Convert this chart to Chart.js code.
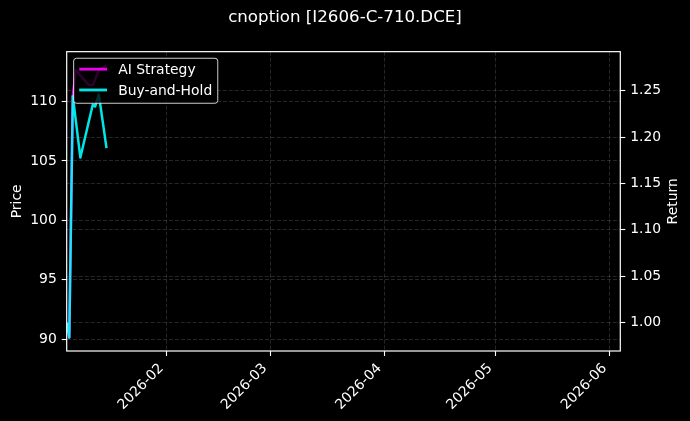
<!DOCTYPE html>
<html>
<head>
<meta charset="utf-8">
<script src="https://cdn.jsdelivr.net/npm/chart.js@4.4.1/dist/chart.umd.min.js"></script>
<style>
  html, body { margin: 0; padding: 0; background: #000; }
  #wrap { width: 690px; height: 421px; }
</style>
</head>
<body>
<div id="wrap"><canvas id="c" width="690" height="421"></canvas></div>
<script>
// ---------- data ----------
const chartTitle = 'cnoption [I2606-C-710.DCE]';
const seriesNames = ['AI Strategy', 'Buy-and-Hold'];
const aiDates = ['2026-01-05T00:15', '2026-01-05T15:00', '2026-01-06T14:00', '2026-01-07T09:00',
                 '2026-01-10T23:00', '2026-01-12T01:00', '2026-01-13T15:00', '2026-01-15T17:00'];
const aiReturns = [1.000, 0.984, 1.244, 1.272, 1.256, 1.256, 1.272, 1.277];
const bhDates = ['2026-01-05T00:15', '2026-01-05T15:00', '2026-01-06T14:00', '2026-01-08T15:00',
                 '2026-01-12T00:00', '2026-01-12T15:30', '2026-01-13T15:00', '2026-01-15T17:00'];
const bhReturns = [1.000, 0.984, 1.244, 1.178, 1.235, 1.233, 1.246, 1.188];
const monthTicks = ['2026-02', '2026-03', '2026-04', '2026-05', '2026-06'];
const xRange = ['2026-01-04T22:20', '2026-06-03T19:00'];
const priceRange = [88.99, 114.21];
const returnRange = [0.9695, 1.292];
const axisTitles = ['Price', 'Return'];
const seriesColors = ['rgba(255,0,255,0.92)', 'rgba(0,255,255,0.9)'];

// ---------- helpers ----------
const T0 = Date.parse('2026-01-01T00:00:00Z');
const toDay = s => (Date.parse(s + ':00Z') - T0) / 86400000;
const FS = 13.9;
const FONT = 'DejaVu Sans';
const gridColor = 'rgba(255,255,255,0.17)';
const gridDash = [4, 2];
const LW = 2.5;

Chart.defaults.font.family = FONT;
Chart.defaults.font.size = FS;
Chart.defaults.color = '#ffffff';

const decorPlugin = {
  id: 'decor',
  afterDraw(chart) {
    const ctx = chart.ctx;
    const ca = chart.chartArea;
    ctx.save();
    // frame
    ctx.strokeStyle = '#ffffff';
    ctx.lineWidth = 1.2;
    ctx.strokeRect(ca.left, ca.top, ca.right - ca.left, ca.bottom - ca.top);

    // right axis title (reads bottom-to-top)
    ctx.save();
    ctx.translate(673, (ca.top + ca.bottom) / 2);
    ctx.rotate(-Math.PI / 2);
    ctx.font = FS + 'px "' + FONT + '"';
    ctx.fillStyle = '#ffffff';
    ctx.textAlign = 'center';
    ctx.textBaseline = 'middle';
    ctx.fillText(axisTitles[1], 0, 0);
    ctx.restore();

    // legend
    ctx.font = FS + 'px "' + FONT + '"';
    const bp = 0.4 * FS, hl = 2 * FS, htp = 0.8 * FS;
    const x0 = ca.left + 0.5 * FS;
    const y0 = ca.top + 6.6;
    const names = seriesNames;
    const tw = Math.max(...names.map(n => ctx.measureText(n).width));
    const w = bp + hl + htp + tw + bp;
    const h = 45;
    const r = 0.2 * FS;
    ctx.beginPath();
    ctx.moveTo(x0 + r, y0);
    ctx.lineTo(x0 + w - r, y0);
    ctx.quadraticCurveTo(x0 + w, y0, x0 + w, y0 + r);
    ctx.lineTo(x0 + w, y0 + h - r);
    ctx.quadraticCurveTo(x0 + w, y0 + h, x0 + w - r, y0 + h);
    ctx.lineTo(x0 + r, y0 + h);
    ctx.quadraticCurveTo(x0, y0 + h, x0, y0 + h - r);
    ctx.lineTo(x0, y0 + r);
    ctx.quadraticCurveTo(x0, y0, x0 + r, y0);
    ctx.closePath();
    ctx.fillStyle = 'rgba(0,0,0,0.8)';
    ctx.fill();
    ctx.strokeStyle = 'rgba(255,255,255,0.8)';
    ctx.lineWidth = 1;
    ctx.stroke();
    names.forEach((n, i) => {
      const cy = y0 + 10.9 + i * 20.8;
      ctx.strokeStyle = seriesColors[i];
      ctx.lineWidth = LW + 0.3;
      ctx.beginPath();
      ctx.moveTo(x0 + bp, cy);
      ctx.lineTo(x0 + bp + hl, cy);
      ctx.stroke();
      ctx.fillStyle = '#ffffff';
      ctx.textAlign = 'left';
      ctx.textBaseline = 'alphabetic';
      ctx.fillText(n, x0 + bp + hl + htp, cy + 5.2);
    });
    ctx.restore();
  }
};

const yGrid = {
  color: gridColor, lineWidth: 0.9, drawTicks: true, tickLength: 5,
  tickColor: '#ffffff', tickWidth: 1.1, tickBorderDash: []
};

new Chart(document.getElementById('c'), {
  type: 'line',
  data: {
    datasets: [
      {
        label: seriesNames[0],
        data: aiDates.map((d, i) => ({ x: toDay(d), y: aiReturns[i] })),
        yAxisID: 'y1',
        borderColor: seriesColors[0],
        borderWidth: LW,
        pointRadius: 0,
        tension: 0,
        borderJoinStyle: 'round',
        order: 2
      },
      {
        label: seriesNames[1],
        data: bhDates.map((d, i) => ({ x: toDay(d), y: bhReturns[i] })),
        yAxisID: 'y1',
        borderColor: seriesColors[1],
        borderWidth: LW,
        pointRadius: 0,
        tension: 0,
        borderJoinStyle: 'round',
        order: 1
      }
    ]
  },
  options: {
    responsive: false,
    animation: false,
    events: [],
    layout: { padding: 0 },
    plugins: {
      legend: { display: false },
      tooltip: { enabled: false },
      title: {
        display: true,
        text: chartTitle,
        color: '#ffffff',
        font: { size: 16.67, weight: 'normal', family: FONT },
        padding: { top: 8, bottom: 23.66 }
      }
    },
    scales: {
      x: {
        type: 'linear',
        position: 'bottom',
        min: toDay(xRange[0]),
        max: toDay(xRange[1]),
        afterBuildTicks: s => { s.ticks = monthTicks.map(m => ({ value: toDay(m + '-01T00:00') })); },
        afterFit: s => { s.height = 70; },
        ticks: {
          autoSkip: false, minRotation: 45, maxRotation: 45,
          padding: 4.4, labelOffset: -5.3, color: '#ffffff',
          callback: (v, i) => monthTicks[i]
        },
        grid: { color: gridColor, lineWidth: 0.9, tickLength: 5, tickColor: '#ffffff', tickWidth: 1.1, tickBorderDash: [] },
        border: { display: false, dash: gridDash }
      },
      y: {
        type: 'linear',
        position: 'left',
        min: priceRange[0],
        max: priceRange[1],
        afterFit: s => { s.width = 66.7; },
        ticks: { stepSize: 5, includeBounds: false, padding: 4.9, color: '#ffffff',
                 callback: v => String(Math.round(v)) },
        grid: yGrid,
        border: { display: false, dash: gridDash },
        title: { display: true, text: axisTitles[0], color: '#ffffff',
                 font: { size: FS, family: FONT }, padding: { top: 8.8, bottom: 0 } }
      },
      y1: {
        type: 'linear',
        position: 'right',
        min: returnRange[0],
        max: returnRange[1],
        afterFit: s => { s.width = 69.7; },
        ticks: { stepSize: 0.05, includeBounds: false, padding: 4.9, color: '#ffffff',
                 callback: v => Number(v).toFixed(2) },
        grid: yGrid,
        border: { display: false, dash: gridDash }
      }
    }
  },
  plugins: [decorPlugin]
});
</script>
</body>
</html>
